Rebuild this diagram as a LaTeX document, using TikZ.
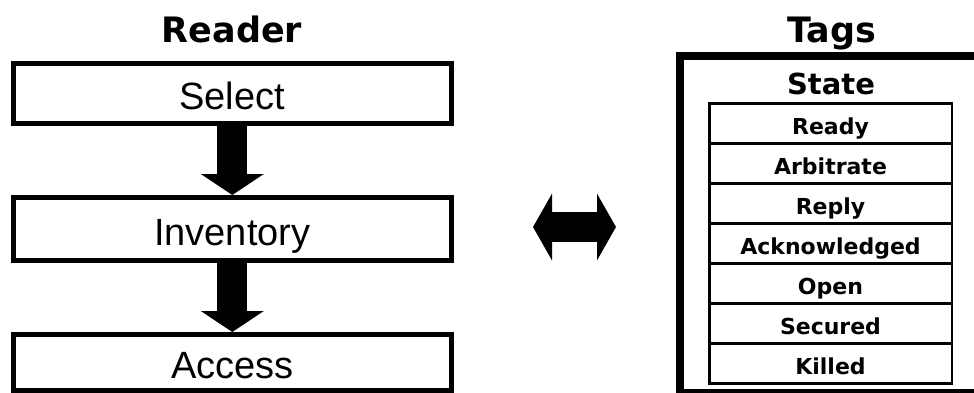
\documentclass[tikz,border=0pt]{standalone}
\usepackage{fontspec}
\setmainfont{Liberation Sans}
\newfontfamily\headfont{DejaVu Sans}
\usetikzlibrary{positioning,arrows.meta}

\tikzset{
  stagebox/.style={draw,line width=5pt,minimum width=438pt,
    font=\fontsize{38}{40}\selectfont,text height=32pt,text depth=0pt},
  blockarrow/.style={line width=30pt,-{Triangle[width=62pt,length=21pt]}},
  swaparrow/.style={line width=30pt,
    {Triangle[width=66pt,length=19pt]}-{Triangle[width=66pt,length=19pt]}},
  headline/.style={anchor=base,font=\headfont\bfseries\fontsize{35}{40}\selectfont},
  rowbox/.style={draw,line width=2.5pt,outer sep=0pt,minimum width=242.5pt,
    minimum height=40pt,font=\headfont\bfseries\fontsize{22}{24}\selectfont,
    text height=22pt,text depth=0pt},
}

\begin{document}
\begin{tikzpicture}[x=1pt,y=-1pt]
   \useasboundingbox (0,0) rectangle (974,392);
   \fill[white] (0,0) rectangle (974,392);
   \clip (0,0) rectangle (974,392);
   % reader side
   \node[headline] (reader) at (232,42.5) {Reader};
   \node[stagebox,minimum height=60pt] (select) at (232.3,93.5) {Select};
   \node[stagebox,minimum height=63pt] (inventory) at (232.3,229) {Inventory};
   \node[stagebox,minimum height=56pt] (access) at (232.3,362.5) {Access};
   \draw[blockarrow] (select.south) -- (inventory.north);
   \draw[blockarrow] (inventory.south) -- (access.north);
   % link
   \coordinate (swapleft) at (533,227);
   \coordinate (swapright) at (616,227);
   \draw[swaparrow] (swapleft) -- (swapright);
   % tag side
   \node[headline] (tags) at (832,42.5) {Tags};
   \node[draw,line width=8pt,anchor=north west,minimum width=400pt,
     minimum height=337pt] (tagbox) at (676,52) {};
   \node[headline,font=\headfont\bfseries\fontsize{29}{32}\selectfont]
     (state) at (831,94.5) {State};
   \node[rowbox] (ready) at (830.5,123.25) {Ready};
   \node[rowbox,below=0pt of ready] (arbitrate) {Arbitrate};
   \node[rowbox,below=0pt of arbitrate] (reply) {Reply};
   \node[rowbox,below=0pt of reply] (acknowledged) {Acknowledged};
   \node[rowbox,below=0pt of acknowledged] (open) {Open};
   \node[rowbox,below=0pt of open] (secured) {Secured};
   \node[rowbox,below=0pt of secured] (killed) {Killed};
\end{tikzpicture}
\end{document}
